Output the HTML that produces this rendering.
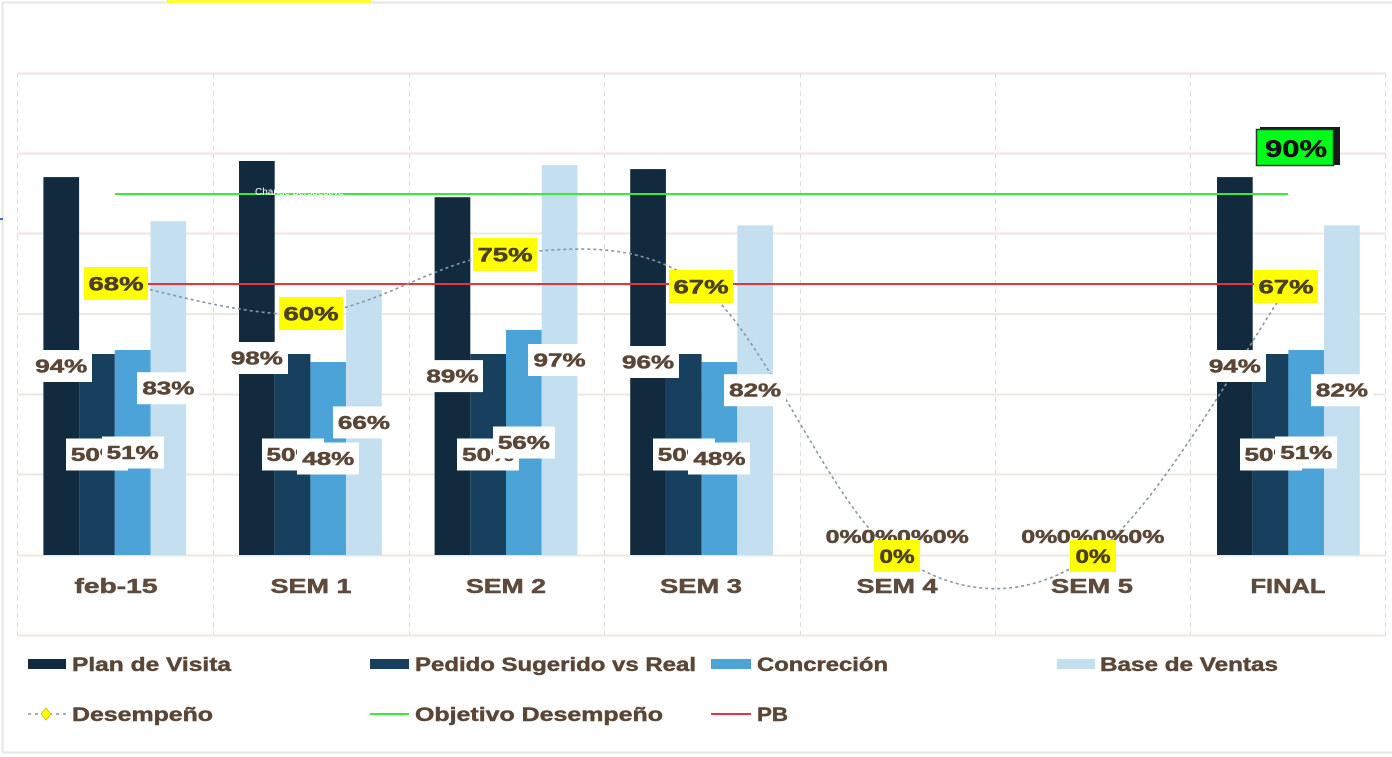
<!DOCTYPE html>
<html><head><meta charset="utf-8"><style>
html,body{margin:0;padding:0;background:#fff;}
svg{display:block;}
text{font-family:"Liberation Sans",sans-serif;font-weight:bold;}
.bl{fill:#5a4636;stroke:#5a4636;stroke-width:0.5;font-size:18px;text-anchor:middle;}
.yl{fill:#4d4020;stroke:#4d4020;stroke-width:0.5;font-size:19px;text-anchor:middle;}
.cat{fill:#5e4b3c;stroke:#5e4b3c;stroke-width:0.5;font-size:20px;text-anchor:middle;}
.lg{fill:#5a4636;stroke:#5a4636;stroke-width:0.45;font-size:19px;}
</style></head><body>
<svg width="1392" height="757" viewBox="0 0 1392 757" xmlns="http://www.w3.org/2000/svg">
<rect x="0" y="0" width="1392" height="757" fill="#fff"/>
<path d="M2.5 752.5 V2.5 H1392" fill="none" stroke="#e9e5e1" stroke-width="2"/>
<line x1="2" y1="752.5" x2="1392" y2="752.5" stroke="#e9e5e1" stroke-width="2"/>
<rect x="167" y="0" width="204" height="3" fill="#ffff33"/>
<rect x="0" y="218" width="3" height="2" fill="#3a6fb0"/>
<g stroke="#efe6e1" stroke-width="2">
<line x1="17" y1="73.5" x2="1386" y2="73.5"/>
<line x1="17" y1="153.5" x2="1386" y2="153.5"/>
<line x1="17" y1="233.5" x2="1386" y2="233.5"/>
<line x1="17" y1="314" x2="1386" y2="314"/>
<line x1="17" y1="394.5" x2="1386" y2="394.5"/>
<line x1="17" y1="474.5" x2="1386" y2="474.5"/>
<line x1="17" y1="555.5" x2="1386" y2="555.5"/>
<line x1="17" y1="635.5" x2="1386" y2="635.5"/>
</g>
<g stroke="#dcdcdc" stroke-width="1" stroke-dasharray="5,4">
<line x1="17.5" y1="73" x2="17.5" y2="635"/>
<line x1="213.5" y1="73" x2="213.5" y2="635"/>
<line x1="409.5" y1="73" x2="409.5" y2="635"/>
<line x1="604.5" y1="73" x2="604.5" y2="635"/>
<line x1="800.5" y1="73" x2="800.5" y2="635"/>
<line x1="995.5" y1="73" x2="995.5" y2="635"/>
<line x1="1190.5" y1="73" x2="1190.5" y2="635"/>
<line x1="1385.5" y1="73" x2="1385.5" y2="635"/>
</g>
<g>
<rect x="43.4" y="177.1" width="35.7" height="377.9" fill="#112a3e"/>
<rect x="79.1" y="354" width="35.7" height="201" fill="#17405e"/>
<rect x="114.8" y="350" width="35.7" height="205" fill="#4ba3d8"/>
<rect x="150.5" y="221.3" width="35.7" height="333.7" fill="#c3dff0"/>
<rect x="239" y="161" width="35.7" height="394" fill="#112a3e"/>
<rect x="274.7" y="354" width="35.7" height="201" fill="#17405e"/>
<rect x="310.4" y="362" width="35.7" height="193" fill="#4ba3d8"/>
<rect x="346.1" y="289.7" width="35.7" height="265.3" fill="#c3dff0"/>
<rect x="434.6" y="197.2" width="35.7" height="357.8" fill="#112a3e"/>
<rect x="470.3" y="354" width="35.7" height="201" fill="#17405e"/>
<rect x="506" y="329.9" width="35.7" height="225.1" fill="#4ba3d8"/>
<rect x="541.7" y="165.1" width="35.7" height="389.9" fill="#c3dff0"/>
<rect x="630.2" y="169.1" width="35.7" height="385.9" fill="#112a3e"/>
<rect x="665.9" y="354" width="35.7" height="201" fill="#17405e"/>
<rect x="701.6" y="362" width="35.7" height="193" fill="#4ba3d8"/>
<rect x="737.3" y="225.4" width="35.7" height="329.6" fill="#c3dff0"/>
<rect x="1217" y="177.1" width="35.7" height="377.9" fill="#112a3e"/>
<rect x="1252.7" y="354" width="35.7" height="201" fill="#17405e"/>
<rect x="1288.4" y="350" width="35.7" height="205" fill="#4ba3d8"/>
<rect x="1324.1" y="225.4" width="35.7" height="329.6" fill="#c3dff0"/>
</g>
<line x1="115" y1="194" x2="1288" y2="194" stroke="#33ee33" stroke-width="2"/>
<line x1="115" y1="284" x2="1288" y2="284" stroke="#e8333a" stroke-width="2"/>
<text x="255" y="195" style="font-weight:normal;font-size:10px;fill:#ffffff">Change perspective</text>
<path d="M114.8 281.6 C147.4 287 245.2 318.5 310.4 313.8 C375.6 309.1 440.8 258.2 506 253.5 C571.2 248.8 636.4 238 701.6 285.7 C766.8 335.95 832 510.1 897.2 555 C962.4 599.9 1027.6 599.9 1092.8 555 C1158 510.1 1255.8 330.6 1288.4 285.7" fill="none" stroke="#8796a6" stroke-width="1.6" stroke-dasharray="3,3"/>
<g>
<rect x="30" y="350" width="62" height="32" fill="#fff"/><text class="bl" x="61.25" y="372.5" textLength="52" lengthAdjust="spacingAndGlyphs">94%</text>
<rect x="66" y="438.5" width="62" height="32" fill="#fff"/><text class="bl" x="96.95" y="461" textLength="52" lengthAdjust="spacingAndGlyphs">50%</text>
<rect x="102" y="436.5" width="62" height="32" fill="#fff"/><text class="bl" x="132.65" y="459" textLength="52" lengthAdjust="spacingAndGlyphs">51%</text>
<rect x="137" y="372.2" width="62" height="32" fill="#fff"/><text class="bl" x="168.35" y="394.7" textLength="52" lengthAdjust="spacingAndGlyphs">83%</text>
<rect x="226" y="342" width="62" height="32" fill="#fff"/><text class="bl" x="256.85" y="364.5" textLength="52" lengthAdjust="spacingAndGlyphs">98%</text>
<rect x="262" y="438.5" width="62" height="32" fill="#fff"/><text class="bl" x="292.55" y="461" textLength="52" lengthAdjust="spacingAndGlyphs">50%</text>
<rect x="297" y="442.5" width="62" height="32" fill="#fff"/><text class="bl" x="328.25" y="465" textLength="52" lengthAdjust="spacingAndGlyphs">48%</text>
<rect x="333" y="406.4" width="62" height="32" fill="#fff"/><text class="bl" x="363.95" y="428.9" textLength="52" lengthAdjust="spacingAndGlyphs">66%</text>
<rect x="421" y="360.1" width="62" height="32" fill="#fff"/><text class="bl" x="452.45" y="382.6" textLength="52" lengthAdjust="spacingAndGlyphs">89%</text>
<rect x="457" y="438.5" width="62" height="32" fill="#fff"/><text class="bl" x="488.15" y="461" textLength="52" lengthAdjust="spacingAndGlyphs">50%</text>
<rect x="493" y="426.5" width="62" height="32" fill="#fff"/><text class="bl" x="523.85" y="449" textLength="52" lengthAdjust="spacingAndGlyphs">56%</text>
<rect x="528" y="344" width="62" height="32" fill="#fff"/><text class="bl" x="559.55" y="366.5" textLength="52" lengthAdjust="spacingAndGlyphs">97%</text>
<rect x="617" y="346" width="62" height="32" fill="#fff"/><text class="bl" x="648.05" y="368.5" textLength="52" lengthAdjust="spacingAndGlyphs">96%</text>
<rect x="653" y="438.5" width="62" height="32" fill="#fff"/><text class="bl" x="683.75" y="461" textLength="52" lengthAdjust="spacingAndGlyphs">50%</text>
<rect x="688" y="442.5" width="62" height="32" fill="#fff"/><text class="bl" x="719.45" y="465" textLength="52" lengthAdjust="spacingAndGlyphs">48%</text>
<rect x="724" y="374.2" width="62" height="32" fill="#fff"/><text class="bl" x="755.15" y="396.7" textLength="52" lengthAdjust="spacingAndGlyphs">82%</text>
<text class="bl" x="843.65" y="543" textLength="36" lengthAdjust="spacingAndGlyphs">0%</text>
<text class="bl" x="879.35" y="543" textLength="36" lengthAdjust="spacingAndGlyphs">0%</text>
<text class="bl" x="915.05" y="543" textLength="36" lengthAdjust="spacingAndGlyphs">0%</text>
<text class="bl" x="950.75" y="543" textLength="36" lengthAdjust="spacingAndGlyphs">0%</text>
<text class="bl" x="1039.25" y="543" textLength="36" lengthAdjust="spacingAndGlyphs">0%</text>
<text class="bl" x="1074.95" y="543" textLength="36" lengthAdjust="spacingAndGlyphs">0%</text>
<text class="bl" x="1110.65" y="543" textLength="36" lengthAdjust="spacingAndGlyphs">0%</text>
<text class="bl" x="1146.35" y="543" textLength="36" lengthAdjust="spacingAndGlyphs">0%</text>
<rect x="1204" y="350" width="62" height="32" fill="#fff"/><text class="bl" x="1234.85" y="372.5" textLength="52" lengthAdjust="spacingAndGlyphs">94%</text>
<rect x="1240" y="438.5" width="62" height="32" fill="#fff"/><text class="bl" x="1270.55" y="461" textLength="52" lengthAdjust="spacingAndGlyphs">50%</text>
<rect x="1275" y="436.5" width="62" height="32" fill="#fff"/><text class="bl" x="1306.25" y="459" textLength="52" lengthAdjust="spacingAndGlyphs">51%</text>
<rect x="1311" y="374.2" width="62" height="32" fill="#fff"/><text class="bl" x="1341.95" y="396.7" textLength="52" lengthAdjust="spacingAndGlyphs">82%</text>
</g>
<g>
<rect x="84" y="267" width="64" height="33" fill="#ffff00"/><text class="yl" x="116" y="290.5" textLength="55" lengthAdjust="spacingAndGlyphs">68%</text>
<rect x="279" y="297" width="64" height="33" fill="#ffff00"/><text class="yl" x="311" y="320.5" textLength="55" lengthAdjust="spacingAndGlyphs">60%</text>
<rect x="473" y="238" width="64" height="33" fill="#ffff00"/><text class="yl" x="505" y="261.5" textLength="55" lengthAdjust="spacingAndGlyphs">75%</text>
<rect x="669" y="270" width="64" height="33" fill="#ffff00"/><text class="yl" x="701" y="293.5" textLength="55" lengthAdjust="spacingAndGlyphs">67%</text>
<rect x="874" y="540" width="46" height="32" fill="#ffff00"/><text class="yl" x="897" y="563" textLength="35" lengthAdjust="spacingAndGlyphs">0%</text>
<rect x="1070" y="540" width="46" height="32" fill="#ffff00"/><text class="yl" x="1093" y="563" textLength="35" lengthAdjust="spacingAndGlyphs">0%</text>
<rect x="1254" y="270" width="64" height="33" fill="#ffff00"/><text class="yl" x="1286" y="293.5" textLength="55" lengthAdjust="spacingAndGlyphs">67%</text>
</g>
<rect x="1260" y="127" width="80" height="38" fill="#1a1a1a"/>
<rect x="1256.5" y="129.5" width="77" height="36" fill="#00ff1a" stroke="#2a3a2a" stroke-width="1.5"/>
<text x="1296" y="157" style="font-size:24px;fill:#111;stroke:#111;stroke-width:0.4;text-anchor:middle" textLength="62" lengthAdjust="spacingAndGlyphs">90%</text>
<g>
<text class="cat" x="116" y="593" textLength="83" lengthAdjust="spacingAndGlyphs">feb-15</text>
<text class="cat" x="311" y="593" textLength="81" lengthAdjust="spacingAndGlyphs">SEM 1</text>
<text class="cat" x="506" y="593" textLength="80" lengthAdjust="spacingAndGlyphs">SEM 2</text>
<text class="cat" x="701" y="593" textLength="82" lengthAdjust="spacingAndGlyphs">SEM 3</text>
<text class="cat" x="897" y="593" textLength="81" lengthAdjust="spacingAndGlyphs">SEM 4</text>
<text class="cat" x="1092" y="593" textLength="82" lengthAdjust="spacingAndGlyphs">SEM 5</text>
<text class="cat" x="1288" y="593" textLength="75" lengthAdjust="spacingAndGlyphs">FINAL</text>
</g>
<g>
<rect x="28" y="659" width="38" height="10" fill="#112a3e"/>
<text class="lg" x="72" y="671" textLength="159" lengthAdjust="spacingAndGlyphs">Plan de Visita</text>
<rect x="370" y="659" width="39" height="10" fill="#17405e"/>
<text class="lg" x="415" y="671" textLength="281" lengthAdjust="spacingAndGlyphs">Pedido Sugerido vs Real</text>
<rect x="711" y="659" width="40" height="10" fill="#4ba3d8"/>
<text class="lg" x="757" y="671" textLength="131" lengthAdjust="spacingAndGlyphs">Concreción</text>
<rect x="1057" y="659" width="38" height="10" fill="#c3dff0"/>
<text class="lg" x="1100" y="671" textLength="178" lengthAdjust="spacingAndGlyphs">Base de Ventas</text>
<line x1="28" y1="714" x2="66" y2="714" stroke="#8796a6" stroke-width="1.6" stroke-dasharray="3,4"/>
<path d="M46 708 L51 714 L46 720 L41 714 Z" fill="#ffff00" stroke="#c8b800" stroke-width="0.8"/>
<text class="lg" x="72" y="721" textLength="141" lengthAdjust="spacingAndGlyphs">Desempeño</text>
<line x1="370" y1="714" x2="409" y2="714" stroke="#33ee33" stroke-width="2"/>
<text class="lg" x="415" y="721" textLength="248" lengthAdjust="spacingAndGlyphs">Objetivo Desempeño</text>
<line x1="711" y1="714" x2="751" y2="714" stroke="#e8333a" stroke-width="2"/>
<text class="lg" x="757" y="721" textLength="31" lengthAdjust="spacingAndGlyphs">PB</text>
</g>
</svg>
</body></html>
